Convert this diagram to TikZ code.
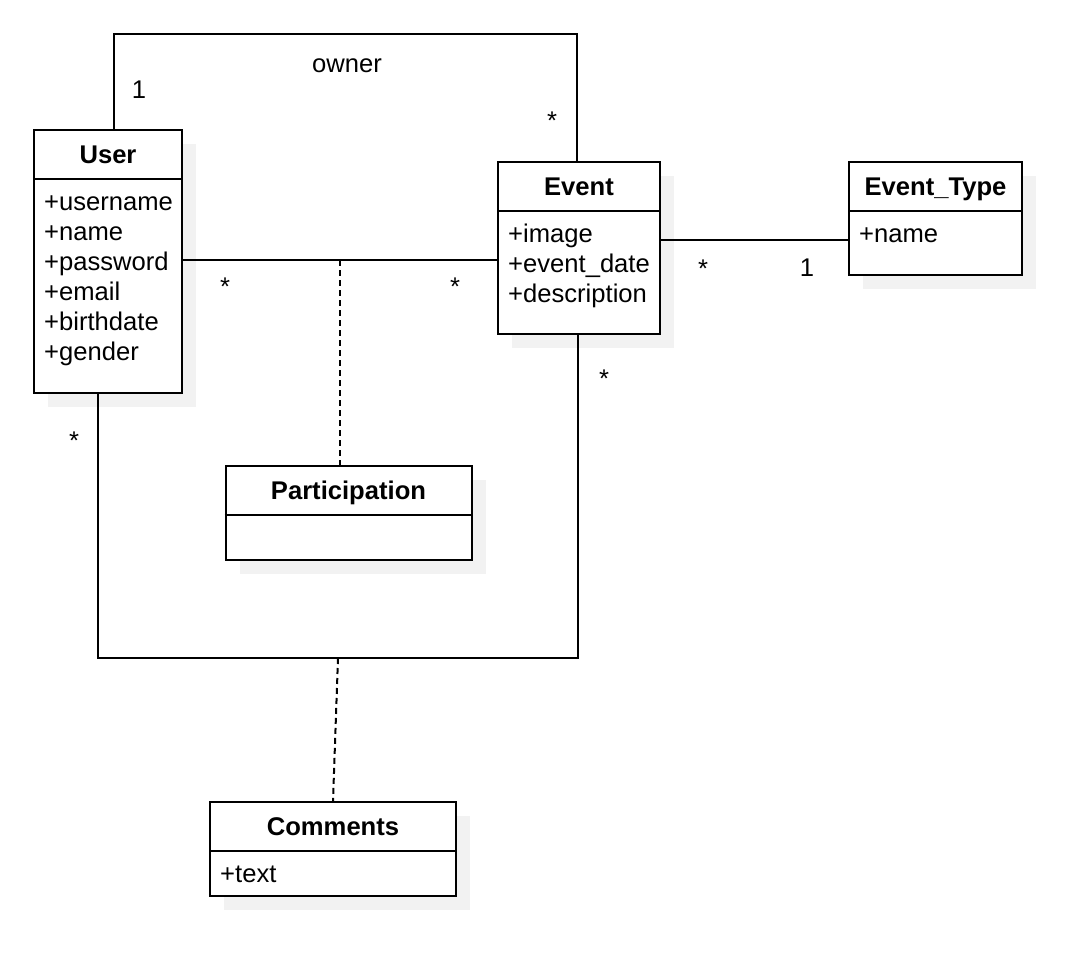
\documentclass[tikz,border=0pt]{standalone}
\usepackage{fontspec}
\setmainfont{Liberation Sans}
\definecolor{shadowc}{HTML}{F2F2F2}
\tikzset{
  classbox/.style={draw=black, line width=2pt, fill=white, inner sep=0pt},
  shadowbox/.style={fill=shadowc},
  titletext/.style={font=\fontsize{25.6}{30}\selectfont\bfseries, inner sep=0pt, anchor=base},
  attrtext/.style={font=\fontsize{25.6}{30}\selectfont, anchor=base west, inner sep=0pt},
  mult/.style={font=\fontsize{25.6}{30}\selectfont, inner sep=0pt, anchor=base},
  assoc/.style={line width=2pt},
  dashedlink/.style={line width=2pt, dash pattern=on 6pt off 4pt},
}
\begin{document}
\begin{tikzpicture}[x=1pt,y=-1pt]
\useasboundingbox[fill=white] (0,0) rectangle (1088,962);
% shadows
\fill[shadowbox] (48,144) rectangle (196,407);
\fill[shadowbox] (512,176) rectangle (674,348);
\fill[shadowbox] (863,176) rectangle (1036,289);
\fill[shadowbox] (240,480) rectangle (486,574);
\fill[shadowbox] (224,816) rectangle (470,910);
% class boxes
\node[classbox, minimum width=148, minimum height=263] (user) at (108,261.5) {};
\node[classbox, minimum width=162, minimum height=172] (event) at (579,248) {};
\node[classbox, minimum width=173, minimum height=113] (etype) at (935.5,218.5) {};
\node[classbox, minimum width=246, minimum height=94] (part) at (348.5,512.5) {};
\node[classbox, minimum width=246, minimum height=94] (comm) at (333,849) {};
% header separators
\foreach \b in {user,event,etype,part,comm}
  \draw[assoc] ([yshift=-50pt]\b.north west) -- ([yshift=-50pt]\b.north east);
% titles
\node[titletext] (tuser) at (108,163) {User};
\node[titletext] (tevent) at (579,195) {Event};
\node[titletext] (tetype) at (935.5,195) {Event\_Type};
\node[titletext] (tpart) at (348.5,499) {Participation};
\node[titletext] (tcomm) at (333,835) {Comments};
% attributes
\node[attrtext] (u1) at (44,210) {+username};
\node[attrtext] (u2) at (44,240) {+name};
\node[attrtext] (u3) at (44,270) {+password};
\node[attrtext] (u4) at (44,300) {+email};
\node[attrtext] (u5) at (44,330) {+birthdate};
\node[attrtext] (u6) at (44,360) {+gender};
\node[attrtext] (e1) at (508,242) {+image};
\node[attrtext] (e2) at (508,272) {+event\_date};
\node[attrtext] (e3) at (508,302) {+description};
\node[attrtext] (t1) at (859,242) {+name};
\node[attrtext] (c1) at (220,882) {+text};
% connector coordinates
\coordinate (o1) at (114,34);
\coordinate (o2) at (577,34);
\coordinate (ue) at (0,260);
\coordinate (pj) at (340,260);
\coordinate (l1) at (98,658);
\coordinate (l2) at (578,658);
\coordinate (cj) at (338,658);
\coordinate (et) at (0,240);
% connectors
\draw[assoc] (user.north -| o1) -- (o1) -- (o2) -- (event.north -| o2);
\draw[assoc] (user.east |- ue) -- (event.west |- ue);
\draw[dashedlink] (pj) -- (part.north -| pj);
\draw[assoc] (user.south -| l1) -- (l1) -- (l2) -- (event.south -| l2);
\draw[dashedlink] (cj) -- (comm.north);
\draw[assoc] (event.east |- et) -- (etype.west |- et);
% labels
\node[mult] (lowner) at (347,72) {owner};
\node[mult] (m1) at (139,98) {1};
\node[mult] (m2) at (552,129) {*};
\node[mult] (m3) at (225,295) {*};
\node[mult] (m4) at (455,295) {*};
\node[mult] (m5) at (74,449) {*};
\node[mult] (m6) at (604,387) {*};
\node[mult] (m7) at (703,277) {*};
\node[mult] (m8) at (807,276) {1};
\end{tikzpicture}
\end{document}
